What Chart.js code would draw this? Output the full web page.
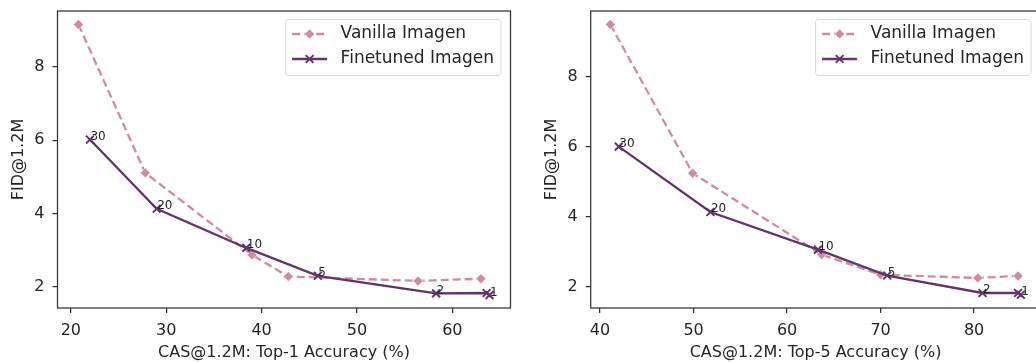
<!DOCTYPE html>
<html>
<head>
<meta charset="utf-8">
<script src="https://cdn.jsdelivr.net/npm/chart.js@4.4.0/dist/chart.umd.min.js"></script>
<style>
    body { margin: 0; background: #fff; overflow: hidden; }
    #wrap { position: relative; width: 1036px; height: 362px; overflow: hidden; }
    .panel { position: absolute; top: 0; height: 362px; }
</style>
</head>
<body>
<div id="wrap">
    <div class="panel" style="left:0;width:518px"><canvas id="top1Chart" width="518" height="362"></canvas></div>
    <div class="panel" style="left:518px;width:530px"><canvas id="top5Chart" width="530" height="362"></canvas></div>
</div>
<script>
// Guidance weights written next to the finetuned points ('' = no label)
const guidanceLabels = ['30', '20', '10', '5', '2', '', '1'];

// Left panel: Top-1 accuracy vs FID
const vanillaTop1Acc = [20.8, 27.8, 39.0, 42.8, 56.4, 63.0];
const vanillaTop1Fid = [9.16, 5.11, 2.87, 2.28, 2.16, 2.22];
const finetunedTop1Acc = [22.0, 29.0, 38.4, 45.9, 58.3, 63.6, 63.9];
const finetunedTop1Fid = [6.02, 4.13, 3.06, 2.30, 1.82, 1.83, 1.77];

// Right panel: Top-5 accuracy vs FID
const vanillaTop5Acc = [41.1, 49.9, 63.7, 70.0, 80.4, 84.7];
const vanillaTop5Fid = [9.50, 5.24, 2.91, 2.33, 2.24, 2.30];
const finetunedTop5Acc = [42.0, 51.8, 63.3, 70.7, 80.9, 84.7, 85.0];
const finetunedTop5Fid = [6.00, 4.13, 3.05, 2.31, 1.81, 1.81, 1.76];

// Tick labels
const top1XTicks = [20, 30, 40, 50, 60];
const top5XTicks = [40, 50, 60, 70, 80];
const fidYTicks = [2, 4, 6, 8];

const textColor = '#262626';
const vanillaColor = '#d08b9f';
const finetunedColor = '#62356a';

Chart.defaults.font.family = '"DejaVu Sans", sans-serif';
Chart.defaults.font.size = 16;
Chart.defaults.color = textColor;

function toPoints(xs, ys) {
    return xs.map((x, i) => ({ x: x, y: ys[i] }));
}

// Frame around the plot area (all four sides)
const framePlugin = {
    id: 'frame',
    afterDatasetsDraw(chart) {
        const { ctx, chartArea } = chart;
        ctx.save();
        ctx.strokeStyle = '#333333';
        ctx.lineWidth = 1.25;
        ctx.strokeRect(chartArea.left, chartArea.top, chartArea.right - chartArea.left, chartArea.bottom - chartArea.top);
        ctx.restore();
    }
};

// Guidance labels next to the finetuned markers
const pointLabelPlugin = {
    id: 'pointLabels',
    afterDatasetsDraw(chart) {
        const ctx = chart.ctx;
        const meta = chart.getDatasetMeta(1);
        ctx.save();
        ctx.font = '12px "DejaVu Sans"';
        ctx.fillStyle = textColor;
        ctx.textAlign = 'left';
        ctx.textBaseline = 'alphabetic';
        meta.data.forEach((pt, i) => {
            const text = guidanceLabels[i];
            if (text) ctx.fillText(text, pt.x + 0.5, pt.y + 0.5);
        });
        ctx.restore();
    }
};

// Boxed legend in the upper right corner of the plot area
const legendPlugin = {
    id: 'boxLegend',
    afterDraw(chart) {
        const { ctx, chartArea } = chart;
        const items = chart.data.datasets;
        ctx.save();
        ctx.font = '17px "DejaVu Sans"';
        const textW = Math.max(...items.map(d => ctx.measureText(d.label).width));
        const w = 55 + textW + 7;
        const h = 56;
        const x0 = chartArea.right - 9.5 - w;
        const y0 = chartArea.top + 8.5;

        ctx.beginPath();
        if (ctx.roundRect) ctx.roundRect(x0, y0, w, h, 3);
        else ctx.rect(x0, y0, w, h);
        ctx.fillStyle = 'rgba(255,255,255,0.8)';
        ctx.fill();
        ctx.strokeStyle = '#d9d9d9';
        ctx.lineWidth = 1;
        ctx.stroke();

        items.forEach((d, i) => {
            const y = y0 + 14.5 + i * 25;
            ctx.beginPath();
            ctx.setLineDash(d.borderDash || []);
            ctx.strokeStyle = d.borderColor;
            ctx.lineWidth = d.borderWidth;
            ctx.moveTo(x0 + 6.5, y);
            ctx.lineTo(x0 + 41.5, y);
            ctx.stroke();
            ctx.setLineDash([]);

            ctx.fillStyle = d.pointBackgroundColor;
            ctx.strokeStyle = d.pointBorderColor;
            ctx.lineWidth = d.pointBorderWidth;
            Chart.helpers.drawPoint(ctx, {
                pointStyle: d.pointStyle,
                radius: d.pointRadius,
                borderWidth: d.pointBorderWidth,
                rotation: 0
            }, x0 + 24, y);

            ctx.fillStyle = textColor;
            ctx.textAlign = 'left';
            ctx.textBaseline = 'middle';
            ctx.fillText(d.label, x0 + 55, y);
        });
        ctx.restore();
    }
};

function getDatasets(vanillaX, vanillaY, finetunedX, finetunedY) {
    return [{
        label: 'Vanilla Imagen',
        data: toPoints(vanillaX, vanillaY),
        showLine: true,
        borderColor: vanillaColor,
        borderWidth: 2.3,
        borderDash: [8, 4],
        pointStyle: 'rectRot',
        pointRadius: 5,
        pointBackgroundColor: vanillaColor,
        pointBorderColor: '#ffffff',
        pointBorderWidth: 0.6,
        tension: 0,
        order: 2
    }, {
        label: 'Finetuned Imagen',
        data: toPoints(finetunedX, finetunedY),
        showLine: true,
        borderColor: finetunedColor,
        borderWidth: 2.3,
        pointStyle: 'crossRot',
        pointRadius: 5.5,
        pointBackgroundColor: finetunedColor,
        pointBorderColor: finetunedColor,
        pointBorderWidth: 2,
        tension: 0,
        order: 1
    }];
}

function getChartOptions(cfg) {
    const tickGrid = {
        drawOnChartArea: false,
        drawTicks: true,
        tickLength: 5,
        color: '#333333',
        lineWidth: 1.25
    };
    return {
        responsive: false,
        animation: false,
        events: [],
        layout: { padding: { left: 0, top: 11, right: cfg.padRight, bottom: 0 } },
        plugins: {
            legend: { display: false },
            tooltip: { enabled: false }
        },
        scales: {
            x: {
                type: 'linear',
                min: cfg.xMin,
                max: cfg.xMax,
                afterBuildTicks: s => { s.ticks = cfg.xTicks.map(v => ({ value: v })); },
                afterFit: s => { s.height = 54; s.paddingLeft = 0; s.paddingRight = 0; },
                grid: tickGrid,
                border: { display: false },
                ticks: { padding: 8, color: textColor },
                title: { display: true, text: cfg.xTitle, color: textColor, padding: { top: 0, bottom: 0 } }
            },
            y: {
                type: 'linear',
                min: cfg.yMin,
                max: cfg.yMax,
                afterBuildTicks: s => { s.ticks = fidYTicks.map(v => ({ value: v })); },
                afterFit: s => { s.width = cfg.yWidth; s.paddingTop = 0; s.paddingBottom = 0; },
                grid: tickGrid,
                border: { display: false },
                ticks: { padding: 8, color: textColor },
                title: { display: true, text: 'FID@1.2M', color: textColor, padding: { top: cfg.yTitlePad, bottom: 0 } }
            }
        }
    };
}

new Chart(document.getElementById('top1Chart').getContext('2d'), {
    type: 'scatter',
    data: { datasets: getDatasets(vanillaTop1Acc, vanillaTop1Fid, finetunedTop1Acc, finetunedTop1Fid) },
    options: getChartOptions({
        xMin: 18.6, xMax: 66.1, yMin: 1.42, yMax: 9.53,
        xTicks: top1XTicks, xTitle: 'CAS@1.2M: Top-1 Accuracy (%)',
        yWidth: 57.5, yTitlePad: 9.5, padRight: 6
    }),
    plugins: [framePlugin, pointLabelPlugin, legendPlugin]
});

new Chart(document.getElementById('top5Chart').getContext('2d'), {
    type: 'scatter',
    data: { datasets: getDatasets(vanillaTop5Acc, vanillaTop5Fid, finetunedTop5Acc, finetunedTop5Fid) },
    options: getChartOptions({
        xMin: 39.0, xMax: 87.1, yMin: 1.38, yMax: 9.886,
        xTicks: top5XTicks, xTitle: 'CAS@1.2M: Top-5 Accuracy (%)',
        yWidth: 72.7, yTitlePad: 23.9, padRight: 3.4
    }),
    plugins: [framePlugin, pointLabelPlugin, legendPlugin]
});
</script>
</body>
</html>
